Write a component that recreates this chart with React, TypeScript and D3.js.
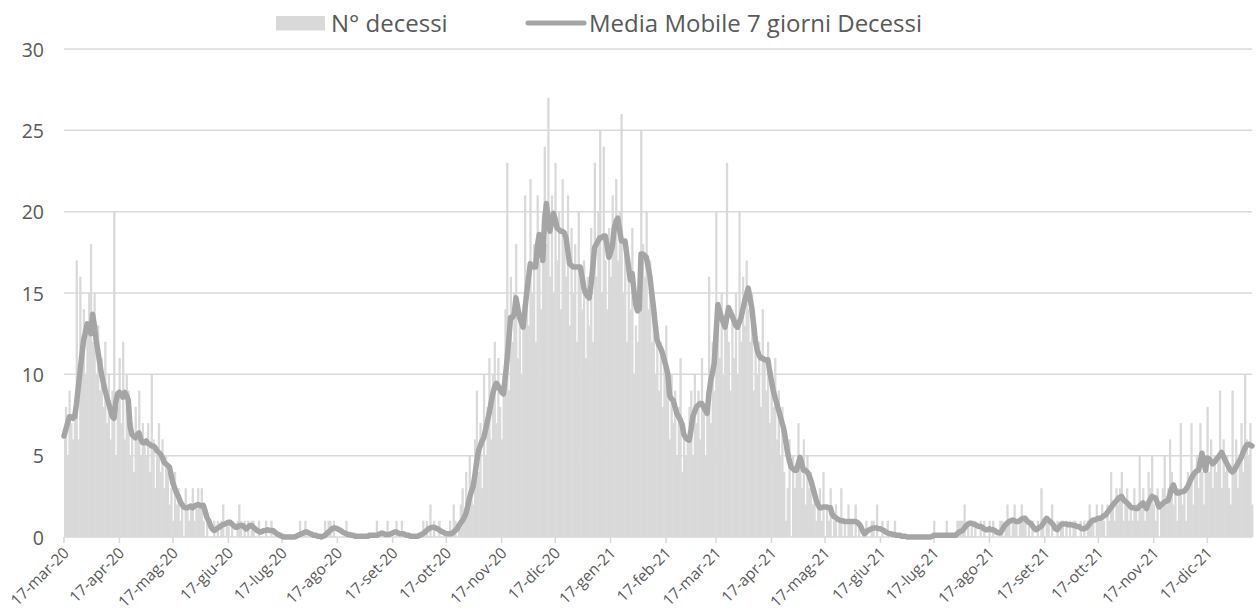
import React from 'react';
import * as d3 from 'd3';

// daily deaths, one array per month (first day shown: 17-mar-20)
const deathsMar20 = [6,8,5,9,7,6,8,17,6,16,11,14,10,13,15];
const deathsApr20 = [18,12,15,10,13,9,11,8,12,7,10,6,9,20,5,8,11,7,12,6,10,9,5,7,4,8,6,9,5,7];
const deathsMay20 = [6,5,7,4,10,6,3,5,7,4,6,3,5,4,2,3,1,4,2,3,1,2,0,3,2,1,2,3,1,2,3];
const deathsJun20 = [2,3,1,0,1,0,0,0,1,0,1,0,1,2,0,1,1,0,1,0,0,1,2,1,0,1,0,1,0,1];
const deathsJul20 = [1,0,0,1,0,0,0,1,0,0,1,0,0,0,0,0,0,0,0,0,0,0,0,0,0,0,1,0,0,1,0];
const deathsAug20 = [0,0,0,0,0,0,0,0,0,1,0,1,1,0,1,0,0,0,0,0,0,1,0,0,0,0,0,0,0,0,0];
const deathsSep20 = [0,0,0,0,0,0,0,1,0,0,0,0,0,1,0,0,0,0,1,0,0,1,0,0,0,0,0,0,0,0];
const deathsOct20 = [0,0,0,1,0,1,0,2,0,1,0,0,1,0,0,0,0,0,1,0,2,1,0,1,2,3,1,4,2,5,3];
const deathsNov20 = [2,6,9,4,7,3,10,5,8,11,6,10,12,7,11,8,6,10,14,23,9,16,12,15,18,11,14,10,13,21];
const deathsDec20 = [16,13,22,15,18,12,21,17,14,20,24,18,27,16,21,15,23,17,20,14,22,18,16,21,13,19,15,18,12,20,16];
const deathsJan21 = [14,17,11,16,13,19,12,23,16,20,25,15,24,17,14,19,16,21,18,22,17,20,26,15,18,12,17,14,19,10,13];
const deathsFeb21 = [12,15,25,18,16,20,14,17,12,15,10,13,9,12,8,11,13,9,6,10,7,9,5,8,11,4,7,5];
const deathsMar21 = [6,8,9,5,10,7,9,6,11,8,5,9,16,7,12,9,20,14,11,15,10,13,23,12,9,14,11,15,10,20,12];
const deathsApr21 = [16,13,17,14,12,15,9,13,10,12,8,14,11,9,12,7,10,8,11,6,9,5,8,4,1,3,6,0,5,3];
const deathsMay21 = [4,7,5,3,6,2,5,3,4,2,3,1,2,3,1,4,0,2,1,3,0,1,2,0,1,3,0,1,0,2,1];
const deathsJun21 = [1,0,2,0,1,0,0,0,1,0,0,1,1,0,2,0,0,1,0,0,1,0,0,0,1,0,0,0,0,0];
const deathsJul21 = [0,0,0,0,0,0,0,0,0,0,0,0,0,0,0,0,1,0,0,0,0,0,0,1,0,0,0,0,0,1,1];
const deathsAug21 = [1,1,2,0,1,0,1,0,1,0,0,1,0,1,0,0,1,0,1,0,0,0,1,1,0,1,2,1,0,1,2];
const deathsSep21 = [1,0,1,2,1,1,0,1,0,1,0,0,1,0,3,1,0,1,1,0,2,0,0,1,0,1,1,0,1,0];
const deathsOct21 = [1,0,1,1,0,0,1,0,1,0,1,2,1,1,0,2,1,1,2,1,0,2,1,4,2,1,3,2,3,4,1];
const deathsNov21 = [2,3,1,2,1,3,2,1,5,2,3,1,2,4,3,5,2,1,3,0,2,3,5,2,3,6,4,2,3,1];
const deathsDec21 = [3,7,2,3,1,4,3,7,2,4,5,3,7,4,2,5,8,4,6,3,5,4,5,9,3,6,4,5,3,2,9];
const deathsJan22 = [4,6,3,5,7,4,10,6,5,7,2];

// 7-day moving average
const avgMar20 = [6.2,6.6,7.0,7.4,7.4,7.3,7.4,8.2,9.2,10.2,11.2,12.1,12.6,13.1,12.8];
const avgApr20 = [12.5,13.7,13.0,12.1,11.4,10.7,10.0,9.5,9.0,8.6,8.2,7.8,7.4,7.3,8.3,8.8,8.9,8.8,8.6,8.9,8.7,8.4,6.8,6.3,6.2,6.1,6.3,6.4,6.0,5.8];
const avgMay20 = [5.8,5.9,5.75,5.7,5.6,5.6,5.5,5.3,5.2,5.1,4.9,4.6,4.5,4.4,4.3,3.8,3.3,3.0,2.7,2.5,2.2,2.0,1.85,1.8,1.8,1.85,1.9,1.8,1.9,1.95,2.0];
const avgJun20 = [1.95,1.9,1.95,1.6,1.2,1.0,0.7,0.5,0.4,0.45,0.55,0.6,0.7,0.75,0.8,0.85,0.9,0.9,0.8,0.7,0.6,0.6,0.7,0.7,0.7,0.6,0.5,0.6,0.7,0.7];
const avgJul20 = [0.6,0.5,0.4,0.35,0.3,0.35,0.4,0.4,0.45,0.4,0.4,0.4,0.3,0.2,0.15,0.1,0.05,0,0,0,0,0,0,0,0.05,0.1,0.15,0.2,0.25,0.3,0.3];
const avgAug20 = [0.25,0.2,0.15,0.1,0.1,0.05,0.05,0,0.05,0.1,0.2,0.3,0.4,0.5,0.55,0.55,0.5,0.45,0.4,0.3,0.25,0.2,0.15,0.15,0.1,0.1,0.05,0.05,0.05,0.05,0.05];
const avgSep20 = [0.05,0.05,0.05,0.1,0.1,0.1,0.1,0.1,0.15,0.2,0.25,0.2,0.15,0.15,0.15,0.2,0.25,0.3,0.3,0.25,0.2,0.2,0.2,0.15,0.1,0.1,0.05,0.05,0.05,0.05];
const avgOct20 = [0.05,0.1,0.15,0.2,0.3,0.4,0.5,0.55,0.6,0.6,0.55,0.5,0.45,0.35,0.3,0.25,0.2,0.2,0.2,0.2,0.3,0.4,0.5,0.7,0.85,1.0,1.2,1.45,1.9,2.4,2.8];
const avgNov20 = [3.1,3.8,4.6,5.3,5.6,5.9,6.1,6.6,7.1,7.6,8.2,8.8,9.2,9.45,9.3,9.1,8.9,8.8,9.8,10.9,12.2,13.5,13.5,13.7,14.7,14.1,13.5,13.2,12.9,14.0];
const avgDec20 = [15.0,15.9,16.8,16.7,16.6,16.6,17.9,18.6,17.5,17.0,19.4,20.5,19.6,18.8,19.4,19.9,19.5,19.0,18.9,18.8,18.8,18.7,18.4,17.6,16.8,16.7,16.6,16.6,16.6,16.6,16.6];
const avgJan21 = [16.0,15.3,15.0,14.8,14.7,15.5,16.6,17.8,18.0,18.2,18.4,18.4,18.5,18.5,17.9,17.2,17.5,17.9,19.0,19.4,19.6,18.9,18.2,18.2,18.2,17.4,16.6,15.8,16.2,15.2,14.3];
const avgFeb21 = [13.9,14.0,17.4,17.4,17.3,17.2,16.6,16.0,15.0,14.1,13.0,12.1,11.8,11.6,11.3,10.9,10.5,10.0,8.7,8.5,8.4,8.0,7.6,7.4,7.2,6.9,6.3,6.1];
const avgMar21 = [6.0,5.95,6.6,7.4,7.7,8.0,8.1,8.2,8.2,8.0,7.8,7.6,8.8,9.6,10.1,10.7,12.5,14.3,13.9,13.5,13.2,12.9,13.5,14.1,13.8,13.6,13.3,13.0,12.9,13.2,13.5];
const avgApr21 = [14.0,14.5,14.9,15.3,14.7,14.1,13.1,12.1,11.5,11.2,11.0,11.0,10.9,10.9,10.9,10.2,9.6,9.0,8.6,8.2,7.8,7.4,7.0,6.6,5.9,5.2,4.7,4.3,4.2,4.1];
const avgMay21 = [4.1,4.5,4.9,4.5,4.1,4.1,4.0,3.8,3.5,3.1,2.7,2.3,2.0,1.8,1.8,1.85,1.85,1.85,1.8,1.8,1.4,1.25,1.2,1.1,1.05,1.0,1.0,0.95,0.95,0.95,0.95];
const avgJun21 = [0.95,0.95,0.95,0.9,0.8,0.65,0.4,0.2,0.3,0.4,0.45,0.5,0.55,0.55,0.55,0.5,0.5,0.45,0.4,0.3,0.25,0.2,0.2,0.15,0.15,0.1,0.1,0.1,0.05,0.05];
const avgJul21 = [0.05,0,0,0,0,0,0,0,0,0,0,0,0,0,0,0.05,0.1,0.1,0.1,0.1,0.1,0.1,0.1,0.1,0.1,0.1,0.1,0.1,0.1,0.2,0.3];
const avgAug21 = [0.35,0.4,0.55,0.7,0.8,0.85,0.85,0.8,0.75,0.7,0.65,0.65,0.6,0.5,0.45,0.45,0.5,0.45,0.45,0.4,0.3,0.25,0.25,0.4,0.6,0.75,0.85,0.95,1.0,1.05,1.0];
const avgSep21 = [0.95,0.95,1.0,1.1,1.15,1.15,1.0,0.9,0.85,0.7,0.55,0.45,0.5,0.6,0.65,0.8,1.0,1.15,1.05,0.95,0.85,0.7,0.5,0.45,0.6,0.75,0.8,0.8,0.8,0.75];
const avgOct21 = [0.75,0.75,0.7,0.7,0.65,0.65,0.55,0.5,0.5,0.55,0.65,0.8,0.95,1.05,1.05,1.1,1.15,1.15,1.2,1.3,1.35,1.5,1.65,1.8,1.95,2.1,2.2,2.35,2.45,2.5,2.3];
const avgNov21 = [2.2,2.1,2.0,1.85,1.8,1.8,1.75,1.75,1.9,2.0,2.1,1.9,1.75,2.1,2.3,2.5,2.45,2.4,2.1,1.85,1.95,2.05,2.15,2.2,2.25,2.6,3.0,3.2,2.9,2.7];
const avgDec21 = [2.7,2.75,2.8,2.8,2.95,3.1,3.35,3.6,3.8,3.95,4.05,4.1,4.6,5.15,4.6,4.1,4.85,4.8,4.65,4.5,4.6,4.75,4.9,5.05,5.2,4.95,4.7,4.5,4.3,4.1,4.0];
const avgJan22 = [4.1,4.3,4.5,4.7,4.9,5.2,5.45,5.65,5.7,5.65,5.6];

const yTicks = [0, 5, 10, 15, 20, 25, 30];
const seriesNames = ['N° decessi', 'Media Mobile 7 giorni Decessi'];

const deaths: number[] = [].concat(
  deathsMar20, deathsApr20, deathsMay20, deathsJun20, deathsJul20, deathsAug20, deathsSep20,
  deathsOct20, deathsNov20, deathsDec20, deathsJan21, deathsFeb21, deathsMar21, deathsApr21,
  deathsMay21, deathsJun21, deathsJul21, deathsAug21, deathsSep21, deathsOct21, deathsNov21,
  deathsDec21, deathsJan22
);
const movingAvg: number[] = [].concat(
  avgMar20, avgApr20, avgMay20, avgJun20, avgJul20, avgAug20, avgSep20,
  avgOct20, avgNov20, avgDec20, avgJan21, avgFeb21, avgMar21, avgApr21,
  avgMay21, avgJun21, avgJul21, avgAug21, avgSep21, avgOct21, avgNov21,
  avgDec21, avgJan22
);

const startDate = new Date(2020, 2, 17);
const days = deaths.map((_, i) => d3.timeDay.offset(startDate, i));
const tickDates = d3.range(22).map(i => new Date(2020, 2 + i, 17));

const itLocale = d3.timeFormatLocale({
  dateTime: '%A %e %B %Y, %X',
  date: '%d/%m/%Y',
  time: '%H:%M:%S',
  periods: ['AM', 'PM'],
  days: ['domenica', 'lunedì', 'martedì', 'mercoledì', 'giovedì', 'venerdì', 'sabato'],
  shortDays: ['dom', 'lun', 'mar', 'mer', 'gio', 'ven', 'sab'],
  months: ['gennaio', 'febbraio', 'marzo', 'aprile', 'maggio', 'giugno', 'luglio', 'agosto', 'settembre', 'ottobre', 'novembre', 'dicembre'],
  shortMonths: ['gen', 'feb', 'mar', 'apr', 'mag', 'giu', 'lug', 'ago', 'set', 'ott', 'nov', 'dic'],
});
const fmt = itLocale.format('%d-%b-%y');

const W = 1257, H = 613;
const left = 64, right = 1252, top = 49, bottom = 537;
const font = '"Open Sans", sans-serif';
const textColor = '#595959';
const gridColor = '#d9d9d9';
const barColor = '#d9d9d9';
const lineColor = '#a5a5a5';

export default function App() {
  const x = d3.scaleTime()
    .domain([startDate, days[days.length - 1]])
    .range([left, right]);
  const y = d3.scaleLinear().domain([0, 30]).range([bottom, top]);
  const step = x(days[1]) - x(days[0]);

  const line = d3.line<number>()
    .x((d, i) => x(days[i]))
    .y(d => y(d));

  return (
    <svg width={W} height={H} style={{ position: 'absolute', left: 0, top: 0, background: '#fff' }}>
      <defs>
        <clipPath id="plotClip">
          <rect x={left} y={0} width={right - left + 2} height={bottom} />
        </clipPath>
      </defs>
      {yTicks.map(v => (
        <g key={v}>
          {v > 0 && <line x1={left} x2={right} y1={y(v)} y2={y(v)} stroke={gridColor} strokeWidth={1.5} />}
          <text x={44} y={y(v)} textAnchor="end" dominantBaseline="central"
            fontFamily={font} fontSize={19.5} fill={textColor}>{v}</text>
        </g>
      ))}
      <g clipPath="url(#plotClip)">
        {deaths.map((d, i) => (
          <rect key={i} x={x(days[i]) - step / 2} y={y(d)} width={step + 0.5} height={bottom - y(d)} fill={barColor} />
        ))}
      </g>
      <line x1={left} x2={right} y1={bottom} y2={bottom} stroke={gridColor} strokeWidth={1.5} />
      {tickDates.map((t, i) => (
        <g key={i}>
          <line x1={x(t)} x2={x(t)} y1={bottom} y2={bottom + 6} stroke={gridColor} strokeWidth={1.5} />
          <text transform={`translate(${x(t) + 6},${bottom + 17}) rotate(-45)`} textAnchor="end"
            fontFamily={font} fontSize={15.5} fill={textColor}>{fmt(t)}</text>
        </g>
      ))}
      <path d={line(movingAvg) || ''} fill="none" stroke={lineColor} strokeWidth={5.5}
        strokeLinejoin="round" strokeLinecap="round" />
      <rect x={276} y={16} width={49} height={14.5} fill={barColor} />
      <text x={331} y={32} fontFamily={font} fontSize={24} fill={textColor}>{seriesNames[0]}</text>
      <line x1={528} x2={584} y1={23} y2={23} stroke={lineColor} strokeWidth={5} strokeLinecap="round" />
      <text x={589} y={32} fontFamily={font} fontSize={24} fill={textColor}>{seriesNames[1]}</text>
    </svg>
  );
}
